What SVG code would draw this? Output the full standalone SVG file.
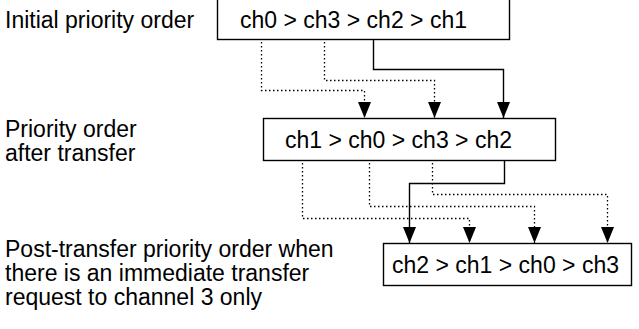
<svg xmlns="http://www.w3.org/2000/svg" width="639" height="329" viewBox="0 0 639 329">
<style>
text{font-family:"Liberation Sans",Arial,sans-serif;font-size:23px;fill:#000}
.box{fill:#fff;stroke:#000;stroke-width:1.4}
.s{fill:none;stroke:#000;stroke-width:1.4}
.d{fill:none;stroke:#000;stroke-width:1.3;stroke-dasharray:1.5 2.5}
</style>
<defs>
<marker id="ah" viewBox="0 0 16 13" refX="16" refY="6.5" markerWidth="16" markerHeight="13" markerUnits="userSpaceOnUse" orient="auto">
<path d="M0,0 L16,6.5 L0,13 z" fill="#000"/>
</marker>
</defs>
<g id="labels">
<text x="5" y="28">Initial priority order</text>
<text x="5" y="137">Priority order</text>
<text x="5" y="161">after transfer</text>
<text x="5" y="257">Post-transfer priority order when</text>
<text x="5" y="281">there is an immediate transfer</text>
<text x="5" y="305">request to channel 3 only</text>
</g>
<g id="connectors">
<path class="d" d="M261.5,42 V90.5 H364.5 V118" marker-end="url(#ah)"/>
<path class="d" d="M324.5,42 V80.5 H434.5 V118" marker-end="url(#ah)"/>
<path class="s" d="M373.5,39 V69.5 H503.5 V118" marker-end="url(#ah)"/>
<path class="d" d="M302.5,163 V218.5 H469.5 V243" marker-end="url(#ah)"/>
<path class="d" d="M369.5,163 V206.5 H534.5 V243" marker-end="url(#ah)"/>
<path class="d" d="M432.5,163 V194.5 H607.5 V243" marker-end="url(#ah)"/>
<path class="s" d="M504.5,160 V183.5 H409.5 V243" marker-end="url(#ah)"/>
</g>
<g id="node1">
<rect class="box" x="217.5" y="-2" width="292" height="41.5"/>
<text x="240" y="28">ch0 &gt; ch3 &gt; ch2 &gt; ch1</text>
</g>
<g id="node2">
<rect class="box" x="263.5" y="118.5" width="292" height="42"/>
<text x="285" y="148">ch1 &gt; ch0 &gt; ch3 &gt; ch2</text>
</g>
<g id="node3">
<rect class="box" x="383.5" y="243.5" width="248" height="42"/>
<text x="392" y="273">ch2 &gt; ch1 &gt; ch0 &gt; ch3</text>
</g>
</svg>
